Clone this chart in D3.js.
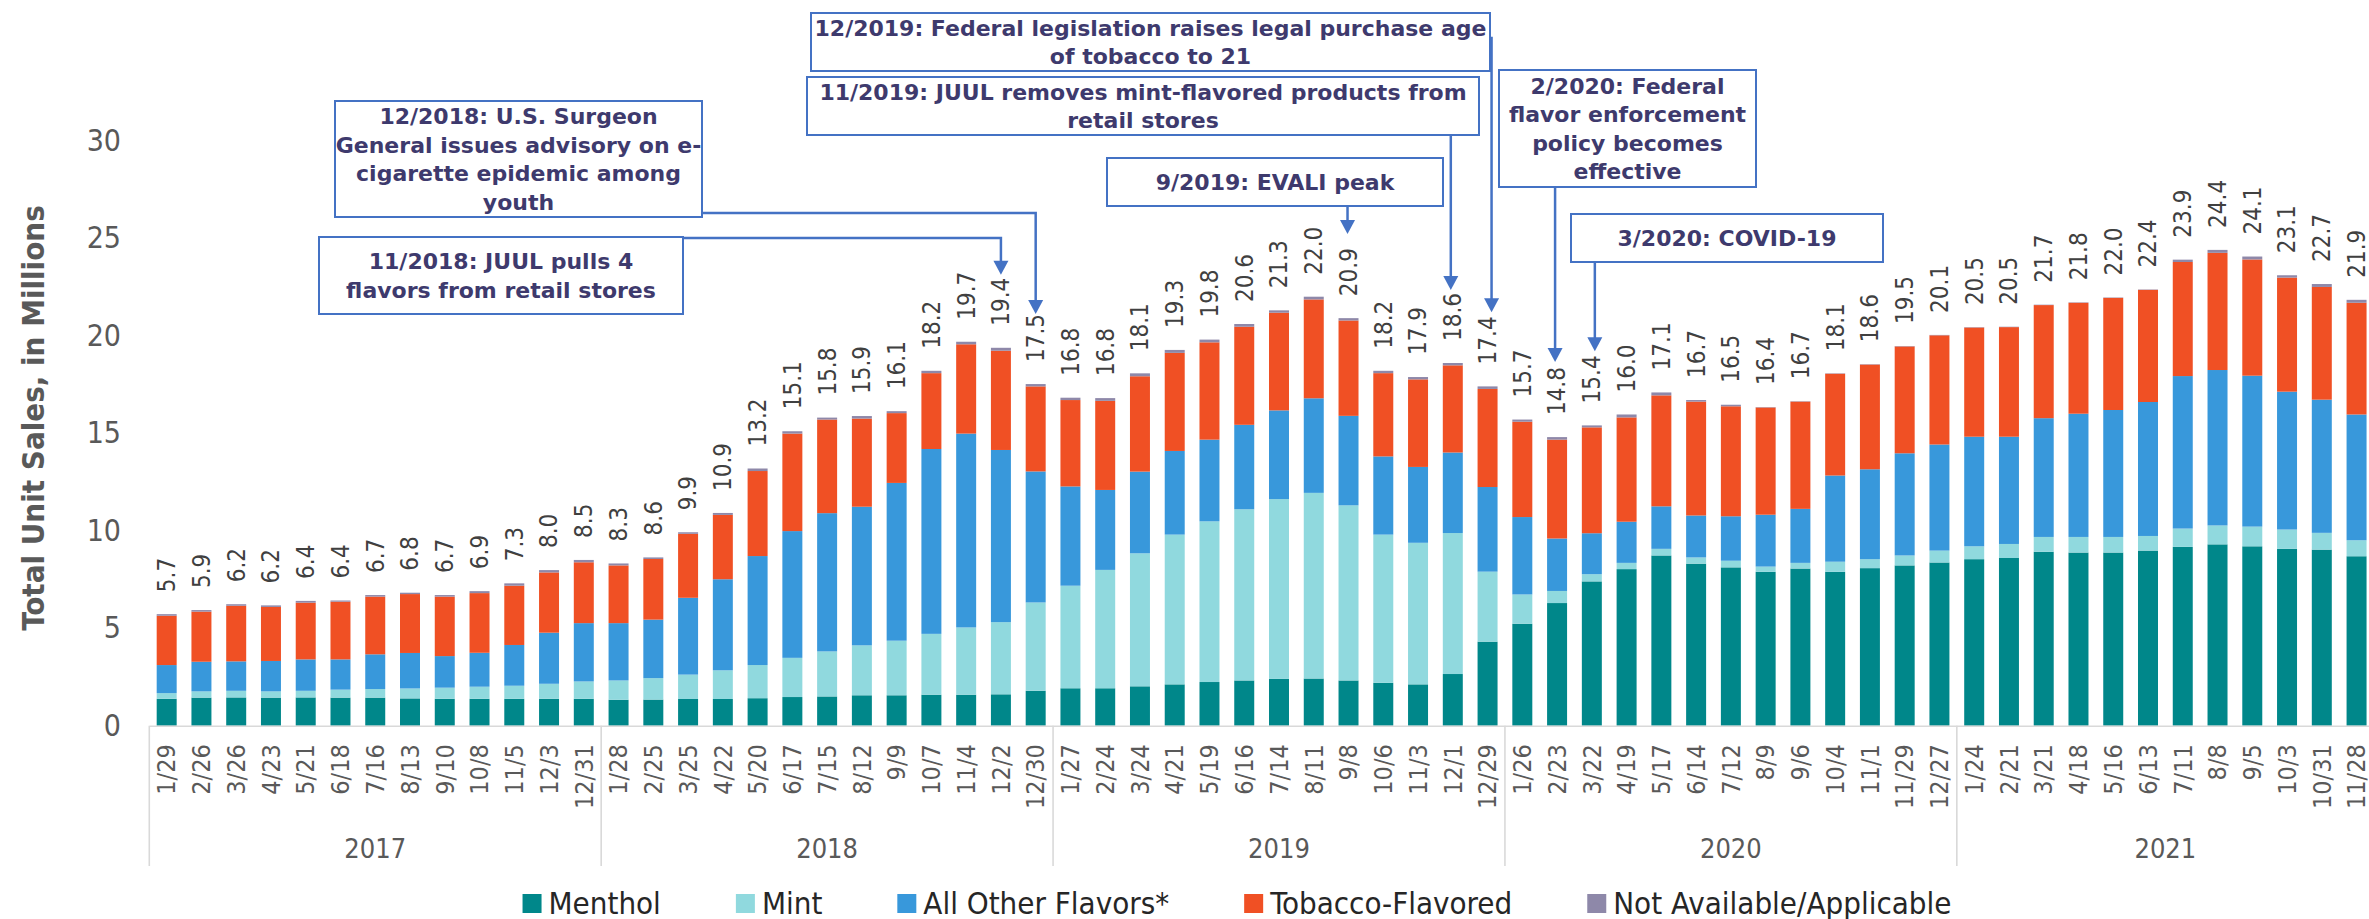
<!DOCTYPE html>
<html><head><meta charset="utf-8">
<script src="https://cdn.jsdelivr.net/npm/d3@7"></script>
<style>
html,body{margin:0;padding:0;background:#fff;}
svg{display:block;}
.cond{font-family:"DejaVu Sans Condensed","DejaVu Sans",sans-serif;font-stretch:condensed;}
.ann{font-family:"DejaVu Sans",Verdana,sans-serif;font-weight:bold;}
</style></head><body>
<svg id="chart" width="2369" height="919"></svg>
<script>
// ---------------- DATA ----------------
const dates = ["1/29","2/26","3/26","4/23","5/21","6/18","7/16","8/13","9/10","10/8","11/5","12/3","12/31",
"1/28","2/25","3/25","4/22","5/20","6/17","7/15","8/12","9/9","10/7","11/4","12/2","12/30",
"1/27","2/24","3/24","4/21","5/19","6/16","7/14","8/11","9/8","10/6","11/3","12/1","12/29",
"1/26","2/23","3/22","4/19","5/17","6/14","7/12","8/9","9/6","10/4","11/1","11/29","12/27",
"1/24","2/21","3/21","4/18","5/16","6/13","7/11","8/8","9/5","10/3","10/31","11/28"];
const years = ["2017","2018","2019","2020","2021"];
const barsPerYear = [13,13,13,13,12];
const totals = [5.7,5.9,6.2,6.2,6.4,6.4,6.7,6.8,6.7,6.9,7.3,8.0,8.5,
8.3,8.6,9.9,10.9,13.2,15.1,15.8,15.9,16.1,18.2,19.7,19.4,17.5,
16.8,16.8,18.1,19.3,19.8,20.6,21.3,22.0,20.9,18.2,17.9,18.6,17.4,
15.7,14.8,15.4,16.0,17.1,16.7,16.5,16.4,16.7,18.1,18.6,19.5,20.1,
20.5,20.5,21.7,21.8,22.0,22.4,23.9,24.4,24.1,23.1,22.7,21.9];
const menthol = [1.38,1.44,1.45,1.44,1.45,1.44,1.44,1.40,1.38,1.38,1.38,1.38,1.38,
1.33,1.34,1.37,1.37,1.41,1.47,1.50,1.56,1.56,1.59,1.59,1.61,1.79,
1.92,1.92,2.02,2.12,2.24,2.32,2.40,2.42,2.32,2.20,2.12,2.65,4.31,
5.23,6.29,7.40,8.03,8.73,8.31,8.12,7.89,8.06,7.89,8.08,8.22,8.37,
8.54,8.60,8.92,8.88,8.88,8.98,9.17,9.30,9.20,9.07,9.03,8.69];
const mint = [0.29,0.32,0.34,0.32,0.34,0.41,0.44,0.51,0.57,0.62,0.67,0.77,0.89,
0.99,1.10,1.25,1.47,1.70,2.01,2.31,2.56,2.80,3.12,3.45,3.70,4.53,
5.26,6.07,6.82,7.68,8.24,8.78,9.22,9.52,8.98,7.60,7.26,7.23,3.59,
1.50,0.62,0.37,0.32,0.34,0.32,0.34,0.27,0.29,0.52,0.46,0.51,0.61,
0.66,0.72,0.76,0.80,0.80,0.75,0.94,0.97,1.01,0.99,0.86,0.82];
const otherFlavors = [1.44,1.52,1.51,1.56,1.61,1.55,1.78,1.82,1.62,1.74,2.09,2.62,2.99,
2.94,3.00,3.94,4.67,5.59,6.50,7.09,7.11,8.09,9.48,9.94,8.83,6.72,
5.09,4.10,4.19,4.29,4.19,4.33,4.55,4.85,4.59,4.01,3.89,4.13,4.34,
3.97,2.69,2.10,2.11,2.18,2.15,2.28,2.66,2.77,4.42,4.61,5.24,5.44,
5.62,5.50,6.09,6.32,6.51,6.87,7.82,7.97,7.74,7.07,6.83,6.45];
const tobacco = [2.53,2.57,2.85,2.77,2.91,2.96,2.96,3.02,3.05,3.06,3.04,3.09,3.12,
2.96,3.11,3.28,3.30,4.36,5.00,4.80,4.52,3.58,3.89,4.58,5.09,4.36,
4.43,4.57,4.89,5.03,4.99,5.03,5.01,5.07,4.89,4.27,4.49,4.47,5.03,
4.89,5.07,5.43,5.35,5.69,5.84,5.64,5.50,5.50,5.22,5.37,5.48,5.60,
5.60,5.62,5.80,5.69,5.75,5.75,5.85,6.01,5.96,5.85,5.78,5.73];
const notAvailable = [0.08,0.08,0.08,0.08,0.09,0.06,0.08,0.07,0.08,0.10,0.12,0.12,0.12,
0.10,0.08,0.08,0.10,0.13,0.12,0.10,0.13,0.10,0.12,0.13,0.15,0.12,
0.12,0.14,0.15,0.15,0.14,0.14,0.12,0.14,0.12,0.12,0.12,0.12,0.13,
0.11,0.13,0.10,0.15,0.15,0.08,0.08,0.02,0.02,0.02,0.02,0.02,0.02,
0.02,0.02,0.02,0.02,0.02,0.02,0.12,0.15,0.15,0.12,0.15,0.15];
const seriesNames = ["Menthol","Mint","All Other Flavors*","Tobacco-Flavored","Not Available/Applicable"];
const yTicks = [0,5,10,15,20,25,30];
const annotations = [
  {lines:["12/2018: U.S. Surgeon","General issues advisory on e-","cigarette epidemic among","youth"], box:[335,101,702,217], target:25, kind:"side", hy:213, dx:0, gap:0},
  {lines:["11/2018: JUUL pulls 4","flavors from retail stores"], box:[319,237,683,314], target:24, kind:"side", hy:238, dx:0, gap:3},
  {lines:["12/2019: Federal legislation raises legal purchase age","of tobacco to 21"], box:[811,13,1490,71], target:38, kind:"side", hy:38, dx:4, gap:4},
  {lines:["11/2019: JUUL removes mint-flavored products from","retail stores"], box:[807,77,1479,135], target:37, kind:"down", dx:-2, gap:3},
  {lines:["9/2019: EVALI peak"], box:[1107,158,1443,206], target:34, kind:"down", dx:-1, gap:14},
  {lines:["2/2020: Federal","flavor enforcement","policy becomes","effective"], box:[1499,70,1756,187], target:40, kind:"down", dx:-2, gap:5},
  {lines:["3/2020: COVID-19"], box:[1571,214,1883,262], target:41, kind:"down", dx:3, gap:4}
];
// ---------------- CHART ----------------
const colors = ["#00878A","#90D9DE","#3898DB","#F05024","#8E88A9"];
const keys = ["menthol","mint","other","tobacco","na"];
const rows = dates.map((d,i)=>({i, menthol:menthol[i], mint:mint[i], other:otherFlavors[i], tobacco:tobacco[i], na:notAvailable[i]}));
const svg = d3.select("#chart");
const W = 2369, H = 919;
svg.append("rect").attr("width",W).attr("height",H).attr("fill","#fff");

const x0 = 149.3, step = 34.76;
const x = d3.scaleBand().domain(d3.range(dates.length))
  .range([x0, x0 + dates.length*step]).paddingInner(0.425).paddingOuter(0.2125);
const y = d3.scaleLinear().domain([0,30]).range([725.7, 140.7]);
const slotStart = i => x(i) - (x.step()-x.bandwidth())/2;
const cx = i => x(i) + x.bandwidth()/2;

const stack = d3.stack().keys(keys)(rows);
const gBars = svg.append("g");
stack.forEach((layer,k)=>{
  gBars.append("g").attr("fill",colors[k]).selectAll("rect").data(layer).join("rect")
    .attr("x",(d,i)=>x(i)).attr("width",x.bandwidth())
    .attr("y",d=>y(d[1])).attr("height",d=>Math.max(0,y(d[0])-y(d[1])));
});

// Y axis
const gy = svg.append("g").attr("class","cond").attr("transform","translate(121,0)")
  .call(d3.axisLeft(y).tickValues(yTicks).tickSize(0).tickPadding(0).tickFormat(d3.format("d")));
gy.select(".domain").remove();
gy.selectAll("text").attr("font-size",30).attr("fill","#595959")
  .style("font-family",'"DejaVu Sans Condensed","DejaVu Sans",sans-serif');

svg.append("text").attr("class","cond")
  .attr("transform","translate(44,418) rotate(-90)").attr("text-anchor","middle")
  .attr("font-size",31).attr("font-weight","bold").attr("fill","#595959")
  .text("Total Unit Sales, in Millions");

// X axis (months)
const gx = svg.append("g").attr("transform",`translate(0,${y(0)})`)
  .call(d3.axisBottom(x).tickSize(0).tickSizeOuter(0).tickFormat(i=>dates[i]));
gx.select(".domain").attr("stroke","#D9D9D9").attr("stroke-width",1.6);
gx.selectAll("text").attr("font-size",25).attr("fill","#595959")
  .style("font-family",'"DejaVu Sans Condensed","DejaVu Sans",sans-serif')
  .attr("y",0).attr("dy","0.35em").attr("text-anchor","end")
  .attr("transform","translate(0,18.5) rotate(-90)");

// Year groups
let startIdx = 0;
const gYear = svg.append("g");
years.forEach((yr,k)=>{
  const s = slotStart(startIdx);
  const endIdx = startIdx + barsPerYear[k];
  const e = slotStart(endIdx-1) + x.step();
  gYear.append("line").attr("x1",s).attr("x2",s).attr("y1",y(0)).attr("y2",866)
    .attr("stroke","#D9D9D9").attr("stroke-width",1.6);
  gYear.append("text").attr("class","cond").attr("x",(s+e)/2).attr("y",858)
    .attr("text-anchor","middle").attr("font-size",27).attr("fill","#595959").text(yr);
  startIdx = endIdx;
});

// Data labels
const tops = rows.map((r,i)=>stack[stack.length-1][i][1]);
const labelLen = [];
const gLab = svg.append("g").attr("class","cond");
totals.forEach((t,i)=>{
  const tx = gLab.append("text")
    .attr("transform",`translate(${cx(i)},${y(tops[i])-22}) rotate(-90)`)
    .attr("dy","0.35em").attr("text-anchor","start")
    .attr("font-size",24).attr("fill","#404040").text(t.toFixed(1));
  labelLen[i] = tx.node().getComputedTextLength();
});

// Annotations
const annColor = "#4472C4";
const gAnn = svg.append("g");
annotations.forEach(a=>{
  const [bx0,by0,bx1,by1] = a.box;
  const px = cx(a.target) + a.dx;
  const tipY = y(tops[a.target]) - 22 - labelLen[a.target] - a.gap;
  const headH = 14, headW = 15;
  let path;
  if (a.kind === "side") {
    path = `M${bx1},${a.hy}H${px}V${tipY-headH+1}`;
  } else {
    path = `M${px},${by1}V${tipY-headH+1}`;
  }
  gAnn.append("path").attr("d",path).attr("fill","none").attr("stroke",annColor).attr("stroke-width",2.5);
  gAnn.append("path").attr("d",`M${px-headW/2},${tipY-headH}L${px+headW/2},${tipY-headH}L${px},${tipY}Z`).attr("fill",annColor);
  gAnn.append("rect").attr("x",bx0).attr("y",by0).attr("width",bx1-bx0).attr("height",by1-by0)
    .attr("fill","#fff").attr("stroke",annColor).attr("stroke-width",2);
  const cyb = (by0+by1)/2, n = a.lines.length;
  a.lines.forEach((ln,j)=>{
    gAnn.append("text").attr("class","ann").attr("x",(bx0+bx1)/2)
      .attr("y",cyb + (j-(n-1)/2)*28.5 + 8).attr("text-anchor","middle")
      .attr("font-size",22).attr("fill","#3E3A6D").text(ln);
  });
});

// Legend
const gLeg = svg.append("g").attr("class","cond");
const items = seriesNames.map((nm,k)=>{
  const g = gLeg.append("g");
  g.append("rect").attr("width",19).attr("height",19).attr("y",894).attr("fill",colors[k]);
  const t = g.append("text").attr("x",26).attr("y",914).attr("font-size",31).attr("fill","#262626").text(nm);
  return {g, w: 26 + t.node().getComputedTextLength()};
});
const gapL = 75;
const totalW = d3.sum(items,d=>d.w) + gapL*(items.length-1);
let lx = 1237 - totalW/2;
items.forEach(it=>{ it.g.attr("transform",`translate(${lx},0)`); lx += it.w + gapL; });
</script>
</body></html>
